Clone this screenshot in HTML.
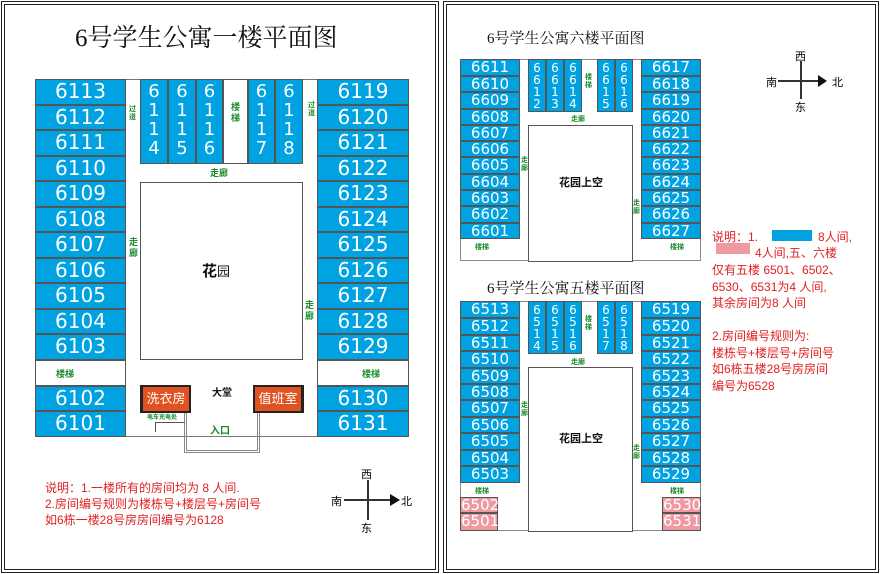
<!DOCTYPE html>
<html><head><meta charset="utf-8"><style>
*{margin:0;padding:0;box-sizing:border-box}
body{width:880px;height:574px;background:#fff;position:relative;overflow:hidden;font-family:"Liberation Sans","Noto Sans CJK SC",sans-serif}
div{position:absolute}
.L,.R{left:0;top:0;width:880px;height:574px}
.p{border:4px double #222}
.r{background:#00a2e2;border:1px solid #555;color:#fff;text-align:center;font-family:"DejaVu Sans","Liberation Sans",sans-serif}
.L .r{font-size:20px;line-height:23px}
.R .r{font-size:15px;line-height:14px}
.pk{background:#ef9aa3!important}
.v{font-size:18px!important;line-height:19px!important;padding-top:2px}
.R .v{font-size:12px!important;line-height:12px!important;padding-top:2px}
.w{background:#fff;border:1px solid #555}
.g{color:#1a8a2a;font-size:9px;font-weight:bold;line-height:11px}
.t{font-family:"Liberation Serif","Noto Serif CJK SC",serif;color:#111;white-space:nowrap}
.red{color:#e02020;white-space:nowrap}
.hl{background:#333}
.nw{white-space:nowrap}
</style></head><body>
<div class="p" style="left:1px;top:1px;width:438px;height:572px"></div>
<div class="p" style="left:443px;top:1px;width:436px;height:572px"></div>

<!-- LEFT PANEL -->
<div class="L">
<div class="t" style="left:75px;top:18px;font-size:25px">6号学生公寓一楼平面图</div>
<div class="w" style="left:35px;top:79px;width:374px;height:358px;border-color:#777"></div>
<div class="w" style="left:140px;top:182px;width:163px;height:178px"></div>
<div class="r" style="left:35px;top:79px;width:91px;height:26px">6113</div>
<div class="r" style="left:35px;top:105px;width:91px;height:25px">6112</div>
<div class="r" style="left:35px;top:130px;width:91px;height:26px">6111</div>
<div class="r" style="left:35px;top:156px;width:91px;height:25px">6110</div>
<div class="r" style="left:35px;top:181px;width:91px;height:26px">6109</div>
<div class="r" style="left:35px;top:207px;width:91px;height:25px">6108</div>
<div class="r" style="left:35px;top:232px;width:91px;height:26px">6107</div>
<div class="r" style="left:35px;top:258px;width:91px;height:25px">6106</div>
<div class="r" style="left:35px;top:283px;width:91px;height:26px">6105</div>
<div class="r" style="left:35px;top:309px;width:91px;height:25px">6104</div>
<div class="r" style="left:35px;top:334px;width:91px;height:26px">6103</div>
<div class="w" style="left:35px;top:360px;width:91px;height:26px"></div>
<div class="g nw" style="left:56px;top:369px">楼梯</div>
<div class="r" style="left:35px;top:386px;width:91px;height:25px">6102</div>
<div class="r" style="left:35px;top:411px;width:91px;height:26px">6101</div>

<div class="r" style="left:317px;top:79px;width:92px;height:26px">6119</div>
<div class="r" style="left:317px;top:105px;width:92px;height:25px">6120</div>
<div class="r" style="left:317px;top:130px;width:92px;height:26px">6121</div>
<div class="r" style="left:317px;top:156px;width:92px;height:25px">6122</div>
<div class="r" style="left:317px;top:181px;width:92px;height:26px">6123</div>
<div class="r" style="left:317px;top:207px;width:92px;height:25px">6124</div>
<div class="r" style="left:317px;top:232px;width:92px;height:26px">6125</div>
<div class="r" style="left:317px;top:258px;width:92px;height:25px">6126</div>
<div class="r" style="left:317px;top:283px;width:92px;height:26px">6127</div>
<div class="r" style="left:317px;top:309px;width:92px;height:25px">6128</div>
<div class="r" style="left:317px;top:334px;width:92px;height:26px">6129</div>
<div class="w" style="left:317px;top:360px;width:92px;height:26px"></div>
<div class="g nw" style="left:362px;top:369px">楼梯</div>
<div class="r" style="left:317px;top:386px;width:92px;height:25px">6130</div>
<div class="r" style="left:317px;top:411px;width:92px;height:26px">6131</div>

<div class="r v" style="left:140px;top:79px;width:28px;height:85px">6<br>1<br>1<br>4</div>
<div class="r v" style="left:168px;top:79px;width:28px;height:85px">6<br>1<br>1<br>5</div>
<div class="r v" style="left:196px;top:79px;width:27px;height:85px">6<br>1<br>1<br>6</div>
<div class="w" style="left:223px;top:79px;width:25px;height:85px"></div>
<div class="g" style="left:231px;top:102px;width:10px">楼梯</div>
<div class="r v" style="left:248px;top:79px;width:27px;height:85px">6<br>1<br>1<br>7</div>
<div class="r v" style="left:275px;top:79px;width:28px;height:85px">6<br>1<br>1<br>8</div>
<div class="g" style="left:129px;top:106px;width:8px;font-size:7px;line-height:8px">过道</div>
<div class="g" style="left:308px;top:102px;width:8px;font-size:7px;line-height:8px">过道</div>
<div class="g nw" style="left:210px;top:168px">走廊</div>
<div class="g" style="left:129px;top:237px;width:10px">走廊</div>
<div class="g" style="left:305px;top:300px;width:10px">走廊</div>
<div class="nw" style="left:202px;top:260px;font-size:15px;font-weight:bold;color:#111">花<span style="font-weight:normal;font-size:13px">园</span></div>

<div style="left:140px;top:385px;width:51px;height:28px;background:#222"></div>
<div class="nw" style="left:143px;top:387px;width:46px;height:24px;background:#e0521f;color:#fff;font-size:13px;text-align:center;line-height:24px">洗衣房</div>
<div style="left:253px;top:385px;width:51px;height:28px;background:#222"></div>
<div class="nw" style="left:255px;top:387px;width:46px;height:24px;background:#e0521f;color:#fff;font-size:13px;text-align:center;line-height:24px">值班室</div>
<div class="nw" style="left:212px;top:384px;font-size:10px;font-weight:bold;color:#111">大堂</div>
<div style="left:184px;top:413px;width:76px;height:40px;border:3px double #888;border-top:none"></div>
<div class="g nw" style="left:210px;top:426px;font-size:10px">入口</div>
<div class="g nw" style="left:147px;top:413px;font-size:6px">电车充电处</div>
<div style="left:155px;top:422px;width:30px;height:10px;border-top:1px solid #555;border-left:1px solid #555"></div>

<div class="red" style="left:45px;top:480px;font-size:12px;line-height:16px">说明：1.一楼所有的房间均为 8 人间.<br>2.房间编号规则为楼栋号+楼层号+房间号<br>如6栋一楼28号房房间编号为6128</div>
<div class="hl" style="left:344px;top:499px;width:46px;height:2px"></div>
<div style="left:390px;top:494px;width:0;height:0;border-left:10px solid #111;border-top:6px solid transparent;border-bottom:6px solid transparent"></div>
<div class="hl" style="left:367px;top:480px;width:2px;height:40px"></div>
<div class="nw" style="left:361px;top:466px;font-size:11px">西</div>
<div class="nw" style="left:361px;top:520px;font-size:11px">东</div>
<div class="nw" style="left:331px;top:493px;font-size:11px">南</div>
<div class="nw" style="left:401px;top:493px;font-size:11px">北</div>
</div>

<!-- RIGHT PANEL -->
<div class="R">
<div class="t" style="left:487px;top:27px;font-size:15px">6号学生公寓六楼平面图</div>
<div class="w" style="left:460px;top:59px;width:241px;height:202px;border-color:#888"></div>
<div class="w" style="left:528px;top:125px;width:105px;height:137px"></div>
<div class="r" style="left:460px;top:59px;width:60px;height:17px">6611</div>
<div class="r" style="left:460px;top:76px;width:60px;height:16px">6610</div>
<div class="r" style="left:460px;top:92px;width:60px;height:17px">6609</div>
<div class="r" style="left:460px;top:109px;width:60px;height:16px">6608</div>
<div class="r" style="left:460px;top:125px;width:60px;height:16px">6607</div>
<div class="r" style="left:460px;top:141px;width:60px;height:16px">6606</div>
<div class="r" style="left:460px;top:157px;width:60px;height:17px">6605</div>
<div class="r" style="left:460px;top:174px;width:60px;height:16px">6604</div>
<div class="r" style="left:460px;top:190px;width:60px;height:16px">6603</div>
<div class="r" style="left:460px;top:206px;width:60px;height:17px">6602</div>
<div class="r" style="left:460px;top:223px;width:60px;height:16px">6601</div>
<div class="g nw" style="left:475px;top:242px;font-size:7px">楼梯</div>
<div class="r" style="left:641px;top:59px;width:60px;height:17px">6617</div>
<div class="r" style="left:641px;top:76px;width:60px;height:16px">6618</div>
<div class="r" style="left:641px;top:92px;width:60px;height:17px">6619</div>
<div class="r" style="left:641px;top:109px;width:60px;height:16px">6620</div>
<div class="r" style="left:641px;top:125px;width:60px;height:16px">6621</div>
<div class="r" style="left:641px;top:141px;width:60px;height:16px">6622</div>
<div class="r" style="left:641px;top:157px;width:60px;height:17px">6623</div>
<div class="r" style="left:641px;top:174px;width:60px;height:16px">6624</div>
<div class="r" style="left:641px;top:190px;width:60px;height:16px">6625</div>
<div class="r" style="left:641px;top:206px;width:60px;height:17px">6626</div>
<div class="r" style="left:641px;top:223px;width:60px;height:16px">6627</div>
<div class="g nw" style="left:670px;top:242px;font-size:7px">楼梯</div>
<div class="r v" style="left:528px;top:59px;width:18px;height:53px">6<br>6<br>1<br>2</div>
<div class="r v" style="left:546px;top:59px;width:18px;height:53px">6<br>6<br>1<br>3</div>
<div class="r v" style="left:564px;top:59px;width:18px;height:53px">6<br>6<br>1<br>4</div>
<div class="g" style="left:585px;top:74px;font-size:7px;width:8px;line-height:8px">楼梯</div>
<div class="r v" style="left:597px;top:59px;width:18px;height:53px">6<br>6<br>1<br>5</div>
<div class="r v" style="left:615px;top:59px;width:18px;height:53px">6<br>6<br>1<br>6</div>
<div class="g nw" style="left:571px;top:114px;font-size:7px">走廊</div>
<div class="g" style="left:521px;top:157px;font-size:7px;width:8px;line-height:8px">走廊</div>
<div class="g" style="left:633px;top:200px;font-size:7px;width:8px;line-height:8px">走廊</div>
<div class="nw" style="left:559px;top:174px;font-size:11px;font-weight:bold;color:#111">花园上空</div>

<div class="t" style="left:487px;top:277px;font-size:15px">6号学生公寓五楼平面图</div>
<div class="w" style="left:460px;top:301px;width:241px;height:230px;border-color:#888"></div>
<div class="w" style="left:528px;top:367px;width:105px;height:165px"></div>
<div class="r" style="left:460px;top:301px;width:60px;height:17px">6513</div>
<div class="r" style="left:460px;top:318px;width:60px;height:17px">6512</div>
<div class="r" style="left:460px;top:335px;width:60px;height:16px">6511</div>
<div class="r" style="left:460px;top:351px;width:60px;height:17px">6510</div>
<div class="r" style="left:460px;top:368px;width:60px;height:16px">6509</div>
<div class="r" style="left:460px;top:384px;width:60px;height:16px">6508</div>
<div class="r" style="left:460px;top:400px;width:60px;height:17px">6507</div>
<div class="r" style="left:460px;top:417px;width:60px;height:16px">6506</div>
<div class="r" style="left:460px;top:433px;width:60px;height:17px">6505</div>
<div class="r" style="left:460px;top:450px;width:60px;height:16px">6504</div>
<div class="r" style="left:460px;top:466px;width:60px;height:17px">6503</div>
<div class="g nw" style="left:475px;top:486px;font-size:7px">楼梯</div>
<div class="r pk" style="left:460px;top:497px;width:38px;height:16px">6502</div>
<div class="r pk" style="left:460px;top:513px;width:38px;height:18px">6501</div>
<div class="r" style="left:641px;top:301px;width:60px;height:17px">6519</div>
<div class="r" style="left:641px;top:318px;width:60px;height:17px">6520</div>
<div class="r" style="left:641px;top:335px;width:60px;height:16px">6521</div>
<div class="r" style="left:641px;top:351px;width:60px;height:17px">6522</div>
<div class="r" style="left:641px;top:368px;width:60px;height:16px">6523</div>
<div class="r" style="left:641px;top:384px;width:60px;height:16px">6524</div>
<div class="r" style="left:641px;top:400px;width:60px;height:17px">6525</div>
<div class="r" style="left:641px;top:417px;width:60px;height:16px">6526</div>
<div class="r" style="left:641px;top:433px;width:60px;height:17px">6527</div>
<div class="r" style="left:641px;top:450px;width:60px;height:16px">6528</div>
<div class="r" style="left:641px;top:466px;width:60px;height:17px">6529</div>
<div class="g nw" style="left:670px;top:486px;font-size:7px">楼梯</div>
<div class="r pk" style="left:662px;top:497px;width:39px;height:16px">6530</div>
<div class="r pk" style="left:662px;top:513px;width:39px;height:18px">6531</div>
<div class="r v" style="left:528px;top:301px;width:18px;height:53px">6<br>5<br>1<br>4</div>
<div class="r v" style="left:546px;top:301px;width:18px;height:53px">6<br>5<br>1<br>5</div>
<div class="r v" style="left:564px;top:301px;width:18px;height:53px">6<br>5<br>1<br>6</div>
<div class="g" style="left:585px;top:316px;font-size:7px;width:8px;line-height:8px">楼梯</div>
<div class="r v" style="left:597px;top:301px;width:18px;height:53px">6<br>5<br>1<br>7</div>
<div class="r v" style="left:615px;top:301px;width:18px;height:53px">6<br>5<br>1<br>8</div>
<div class="g nw" style="left:571px;top:357px;font-size:7px">走廊</div>
<div class="g" style="left:521px;top:402px;font-size:7px;width:8px;line-height:8px">走廊</div>
<div class="g" style="left:633px;top:445px;font-size:7px;width:8px;line-height:8px">走廊</div>
<div class="nw" style="left:559px;top:430px;font-size:11px;font-weight:bold;color:#111">花园上空</div>

<div class="red" style="left:712px;top:229px;font-size:12px;line-height:16.5px">说明：1.<br><br>仅有五楼 6501、6502、<br>6530、6531为4 人间,<br>其余房间为8 人间<br><br>2.房间编号规则为:<br>楼栋号+楼层号+房间号<br>如6栋五楼28号房房间<br>编号为6528</div>
<div class="red" style="left:818px;top:229px;font-size:12px;line-height:16.5px">8人间,</div>
<div class="red" style="left:755px;top:245px;font-size:12px;line-height:16.5px">4人间,五、六楼</div>
<div style="left:772px;top:230px;width:40px;height:11px;background:#00a2e2"></div>
<div style="left:716px;top:243px;width:34px;height:11px;background:#ef9aa3"></div>

<div class="hl" style="left:778px;top:80px;width:40px;height:2px"></div>
<div style="left:818px;top:75px;width:0;height:0;border-left:9px solid #111;border-top:6px solid transparent;border-bottom:6px solid transparent"></div>
<div class="hl" style="left:800px;top:61px;width:2px;height:38px"></div>
<div class="nw" style="left:795px;top:48px;font-size:11px">西</div>
<div class="nw" style="left:795px;top:99px;font-size:11px">东</div>
<div class="nw" style="left:766px;top:74px;font-size:11px">南</div>
<div class="nw" style="left:832px;top:74px;font-size:11px">北</div>
</div>
</body></html>
